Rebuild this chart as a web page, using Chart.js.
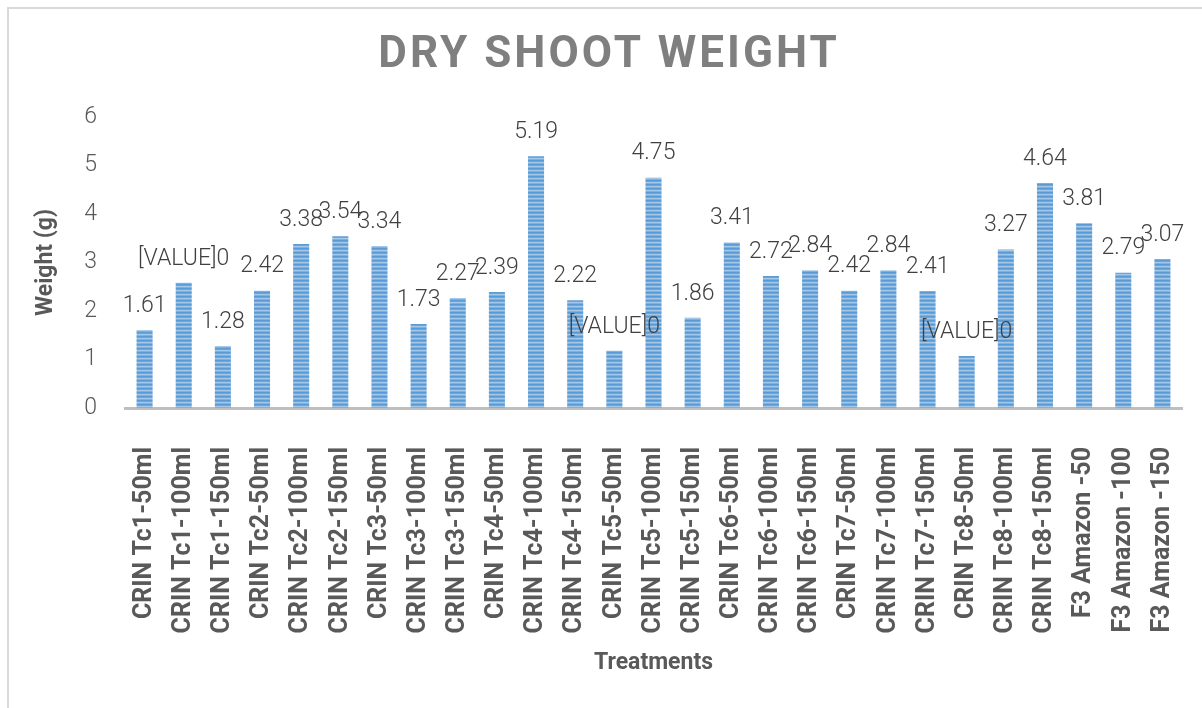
<!DOCTYPE html>
<html>
<head>
<meta charset="utf-8">
<title>Dry shoot weight</title>
<script src="https://cdn.jsdelivr.net/npm/chart.js@4.4.1/dist/chart.umd.min.js"></script>
<style>
  html, body { margin: 0; padding: 0; background: #fff; overflow: hidden; }
  .frame {
    position: absolute; left: 7px; top: 7px; width: 1400px; height: 900px;
    border-left: 2px solid #d9d9d9; border-top: 2px solid #d9d9d9;
  }
  .wrap { position: absolute; left: 0; top: 0; width: 1202px; height: 708px; }
</style>
</head>
<body>
<div class="frame"></div>
<div class="wrap"><canvas id="chart" width="1202" height="708"></canvas></div>
<script>
// data
const categories = [
  'CRIN Tc1-50ml', 'CRIN Tc1-100ml', 'CRIN Tc1-150ml',
  'CRIN Tc2-50ml', 'CRIN Tc2-100ml', 'CRIN Tc2-150ml',
  'CRIN Tc3-50ml', 'CRIN Tc3-100ml', 'CRIN Tc3-150ml',
  'CRIN Tc4-50ml', 'CRIN Tc4-100ml', 'CRIN Tc4-150ml',
  'CRIN Tc5-50ml', 'CRIN Tc5-100ml', 'CRIN Tc5-150ml',
  'CRIN Tc6-50ml', 'CRIN Tc6-100ml', 'CRIN Tc6-150ml',
  'CRIN Tc7-50ml', 'CRIN Tc7-100ml', 'CRIN Tc7-150ml',
  'CRIN Tc8-50ml', 'CRIN Tc8-100ml', 'CRIN Tc8-150ml',
  'F3 Amazon -50', 'F3 Amazon -100', 'F3 Amazon -150'
];
const weights = [
  1.61, 2.58, 1.28,
  2.42, 3.38, 3.54,
  3.34, 1.73, 2.27,
  2.39, 5.19, 2.22,
  1.18, 4.75, 1.86,
  3.41, 2.72, 2.84,
  2.42, 2.84, 2.41,
  1.07, 3.27, 4.64,
  3.81, 2.79, 3.07
];
// labels as printed on the chart (three of them are broken field codes)
const valueLabels = [
  '1.61', '[VALUE]0', '1.28',
  '2.42', '3.38', '3.54',
  '3.34', '1.73', '2.27',
  '2.39', '5.19', '2.22',
  '[VALUE]0', '4.75', '1.86',
  '3.41', '2.72', '2.84',
  '2.42', '2.84', '2.41',
  '[VALUE]0', '3.27', '4.64',
  '3.81', '2.79', '3.07'
];
const yTicks = [0, 1, 2, 3, 4, 5, 6];

const sans = 'Roboto, "Noto Sans", sans-serif';

// striped fill like the excel bars
function stripes() {
  const c = document.createElement('canvas');
  c.width = 4; c.height = 4;
  const g = c.getContext('2d');
  const rows = ['#5b9bd5', '#6aa5db', '#a4c8ea', '#7eb0e0'];
  rows.forEach((col, i) => { g.fillStyle = col; g.fillRect(0, i, 4, 1); });
  return g.createPattern(c, 'repeat');
}

const titlePlugin = {
  id: 'bigTitle',
  afterDraw(chart) {
    const ctx = chart.ctx;
    ctx.save();
    ctx.font = 'bold 44px ' + sans;
    ctx.letterSpacing = '3px';
    ctx.fillStyle = '#7f7f7f';
    ctx.textAlign = 'center';
    ctx.textBaseline = 'middle';
    ctx.fillText('DRY SHOOT WEIGHT', 609, 56);
    ctx.restore();
  }
};

const valueLabelPlugin = {
  id: 'valueLabels',
  afterDatasetsDraw(chart) {
    const ctx = chart.ctx;
    const meta = chart.getDatasetMeta(0);
    ctx.save();
    ctx.font = '300 23px ' + sans;
    ctx.fillStyle = '#404040';
    ctx.textAlign = 'center';
    ctx.textBaseline = 'middle';
    meta.data.forEach((bar, i) => {
      ctx.fillText(valueLabels[i], bar.x, bar.y - 24);
    });
    ctx.restore();
  }
};

new Chart(document.getElementById('chart'), {
  type: 'bar',
  data: {
    labels: categories,
    datasets: [{
      label: 'Dry shoot weight',
      data: weights,
      backgroundColor: stripes(),
      borderWidth: 0,
      barPercentage: 0.41,
      categoryPercentage: 1
    }]
  },
  options: {
    responsive: false,
    animation: false,
    layout: { padding: { top: 117, left: 0, right: 20, bottom: 0 } },
    plugins: {
      legend: { display: false },
      tooltip: { enabled: false }
    },
    scales: {
      x: {
        grid: { display: false },
        border: { display: true, color: '#bfbfbf', width: 3 },
        ticks: {
          autoSkip: false,
          maxRotation: 90,
          minRotation: 90,
          padding: 31,
          color: '#595959',
          font: { family: sans, size: 25, weight: 'bold' }
        },
        title: {
          display: true,
          text: 'Treatments',
          color: '#595959',
          font: { family: sans, size: 23, weight: 'bold' },
          padding: { top: 0, bottom: 31 }
        },
        afterFit(scale) {
          scale.height = 300;
          scale.paddingLeft = 0;
          scale.paddingRight = 0;
        }
      },
      y: {
        min: 0,
        max: 6,
        grid: { display: false },
        border: { display: false },
        afterBuildTicks(scale) { scale.ticks = yTicks.map(v => ({ value: v })); },
        ticks: {
          padding: 20,
          color: '#595959',
          font: { family: sans, size: 23, weight: '300' }
        },
        title: {
          display: true,
          text: 'Weight (g)',
          color: '#595959',
          font: { family: sans, size: 23, weight: 'bold' },
          padding: { top: 32, bottom: 0 }
        },
        afterFit(scale) { scale.width = 125; }
      }
    }
  },
  plugins: [titlePlugin, valueLabelPlugin]
});
</script>
</body>
</html>
